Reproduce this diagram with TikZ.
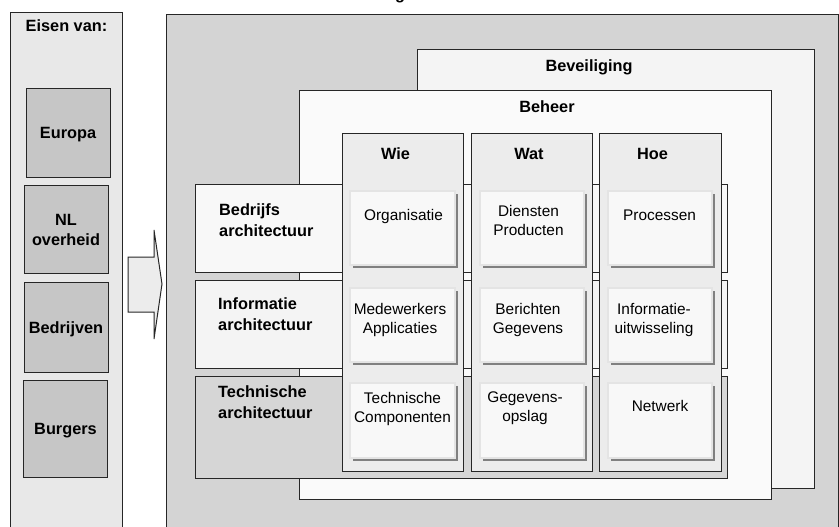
\documentclass[tikz,border=0pt]{standalone}
\usepackage{fontspec}
\setmainfont{Liberation Sans}
\usetikzlibrary{shadows}
\definecolor{leftbg}{HTML}{E8E8E8}
\definecolor{leftbox}{HTML}{C6C6C6}
\definecolor{bigbg}{HTML}{D4D4D4}
\definecolor{bevbg}{HTML}{F4F4F4}
\definecolor{behbg}{HTML}{FAFAFA}
\definecolor{rowa}{HTML}{F8F8F8}
\definecolor{rowb}{HTML}{F4F4F4}
\definecolor{rowc}{HTML}{D6D6D6}
\definecolor{colbg}{HTML}{ECECEC}
\definecolor{cellbg}{HTML}{F8F8F8}
\definecolor{celledge}{HTML}{E4E4E4}
\definecolor{shadowgray}{HTML}{808080}
\definecolor{arrowbg}{HTML}{ECECEC}
\definecolor{edge}{HTML}{262626}
\tikzset{
  panel/.style={draw=edge, line width=1.2pt, inner sep=0pt, anchor=north west},
  cellbox/.style={draw=celledge, line width=1.5pt, fill=cellbg, inner sep=0pt, anchor=north west,
    drop shadow={shadow xshift=3pt, shadow yshift=-3pt, fill=shadowgray, opacity=1}},
  boldtxt/.style={font=\fontsize{16.3}{20.5}\selectfont\bfseries, inner sep=0pt, anchor=base},
  rowtxt/.style={font=\fontsize{16.3}{20.5}\selectfont\bfseries, inner sep=0pt, anchor=base west, align=left},
  celltxt/.style={font=\fontsize{15.4}{18.8}\selectfont, inner sep=0pt, anchor=base, align=center},
}
\begin{document}
\begin{tikzpicture}[x=1pt, y=-1pt]
\useasboundingbox (0,0) rectangle (839,527);
% cut-off title
\node[boldtxt] (toptitle) at (400,0) {g};
% left panel
\node[panel, fill=leftbg, minimum width=112pt, minimum height=530pt] (eisen) at (10,12) {};
\node[boldtxt] (eisenlbl) at (66.5,32) {Eisen van:};
\node[panel, fill=leftbox, minimum width=84pt, minimum height=89pt] (europa) at (26,88) {};
\node[boldtxt] (europalbl) at (68,139) {Europa};
\node[panel, fill=leftbox, minimum width=84pt, minimum height=88pt] (nl) at (24,185) {};
\node[boldtxt, align=center] (nllbl) at (66,245.5) {NL\\overheid};
\node[panel, fill=leftbox, minimum width=84pt, minimum height=90pt] (bedrijven) at (24,282) {};
\node[boldtxt] (bedrijvenlbl) at (66,333) {Bedrijven};
\node[panel, fill=leftbox, minimum width=84pt, minimum height=97pt] (burgers) at (23,380) {};
\node[boldtxt] (burgerslbl) at (65.5,434) {Burgers};
% arrow
\draw[draw=edge, line width=1pt, fill=arrowbg] (128,257) -- (154,257) -- (154,230) -- (162,284) -- (154,339) -- (154,312) -- (128,312) -- cycle;
% big panel
\node[panel, fill=bigbg, minimum width=672pt, minimum height=530pt] (big) at (166,14) {};
\node[panel, fill=bevbg, minimum width=397pt, minimum height=439pt] (bev) at (417,49) {};
\node[boldtxt] (bevlbl) at (589,71.5) {Beveiliging};
\node[panel, fill=behbg, minimum width=472pt, minimum height=409pt] (beh) at (299,90) {};
\node[boldtxt] (behlbl) at (547,113) {Beheer};
% rows
\node[panel, fill=rowa, minimum width=532pt, minimum height=88pt] (row1) at (195,184) {};
\node[panel, fill=rowb, minimum width=532pt, minimum height=88pt] (row2) at (195,280) {};
\node[panel, fill=rowc, minimum width=532pt, minimum height=102pt] (row3) at (195,376) {};
\node[rowtxt] (row1lbl) at (219,236) {Bedrijfs\\architectuur};
\node[rowtxt] (row2lbl) at (218,330) {Informatie\\architectuur};
\node[rowtxt] (row3lbl) at (218,418) {Technische\\architectuur};
% columns
\node[panel, fill=colbg, minimum width=121pt, minimum height=338pt] (wie) at (342,133) {};
\node[panel, fill=colbg, minimum width=121pt, minimum height=338pt] (wat) at (471,133) {};
\node[panel, fill=colbg, minimum width=122pt, minimum height=338pt] (hoe) at (599,133) {};
\node[boldtxt] (wielbl) at (395.5,160) {Wie};
\node[boldtxt] (watlbl) at (529,160) {Wat};
\node[boldtxt] (hoelbl) at (652.5,160) {Hoe};
% cells
\node[cellbox, minimum width=105pt, minimum height=74pt] (c11) at (349,190) {};
\node[cellbox, minimum width=104pt, minimum height=74pt] (c12) at (479,190) {};
\node[cellbox, minimum width=104pt, minimum height=74pt] (c13) at (607,190) {};
\node[cellbox, minimum width=105pt, minimum height=74pt] (c21) at (349,287) {};
\node[cellbox, minimum width=104pt, minimum height=74pt] (c22) at (479,287) {};
\node[cellbox, minimum width=104pt, minimum height=74pt] (c23) at (607,287) {};
\node[cellbox, minimum width=105pt, minimum height=75pt] (c31) at (349,382) {};
\node[cellbox, minimum width=104pt, minimum height=75pt] (c32) at (479,382) {};
\node[cellbox, minimum width=104pt, minimum height=75pt] (c33) at (607,382) {};
\node[celltxt] (t11) at (403.5,220) {Organisatie};
\node[celltxt] (t12) at (528.5,235) {Diensten\\Producten};
\node[celltxt] (t13) at (659.5,220) {Processen};
\node[celltxt] (t21) at (400,333) {Medewerkers\\Applicaties};
\node[celltxt] (t22) at (528,333) {Berichten\\Gegevens};
\node[celltxt] (t23) at (654,333) {Informatie-\\uitwisseling};
\node[celltxt] (t31) at (402.5,422) {Technische\\Componenten};
\node[celltxt] (t32) at (525,421) {Gegevens-\\opslag};
\node[celltxt] (t33) at (660,411) {Netwerk};
\end{tikzpicture}
\end{document}
